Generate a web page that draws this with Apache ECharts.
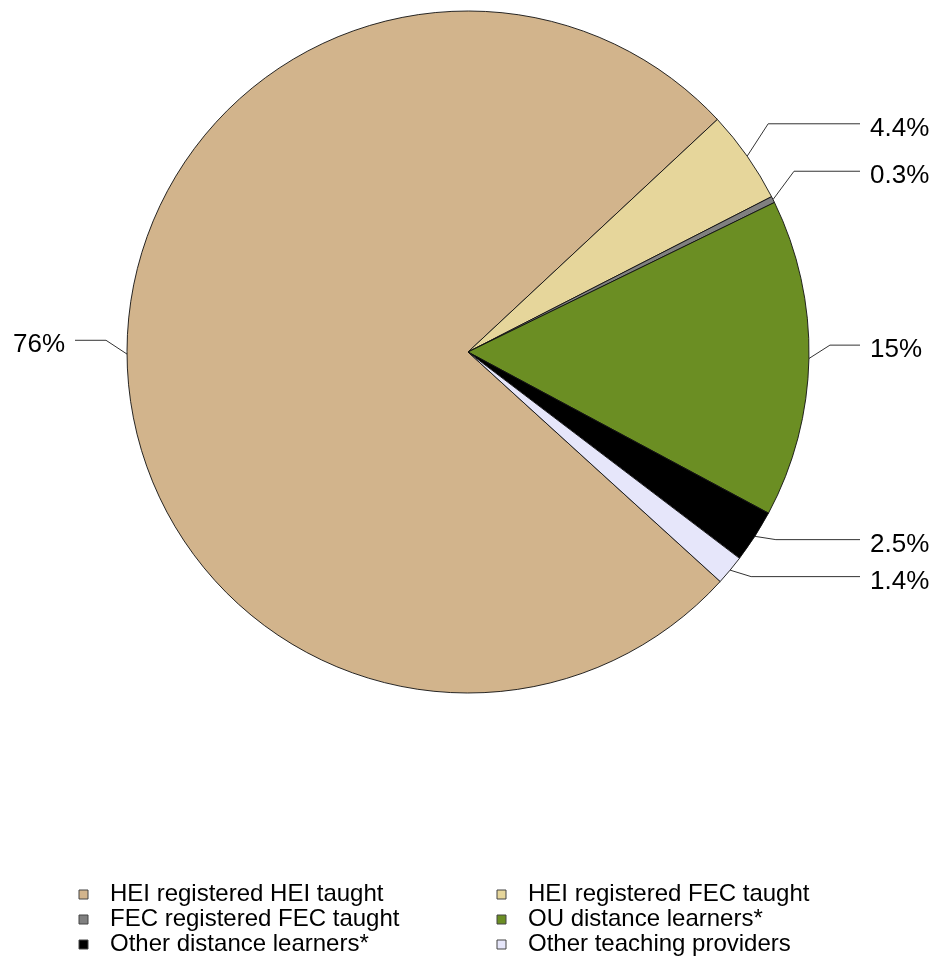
<!DOCTYPE html>
<html>
<head>
<meta charset="utf-8">
<script src="https://cdn.jsdelivr.net/npm/echarts@6/dist/echarts.min.js"></script>
<style>
  html, body { margin: 0; padding: 0; background: #fff; }
  #chart { width: 935px; height: 963px; }
</style>
</head>
<body>
<div id="chart"></div>
<script>
const categories = [
  'HEI registered HEI taught',
  'HEI registered FEC taught',
  'FEC registered FEC taught',
  'OU distance learners*',
  'Other distance learners*',
  'Other teaching providers'
]
const shares = [76, 4.4, 0.3, 15, 2.5, 1.4]
const colors = ['#d2b48c', '#e6d69b', '#808080', '#6b8e23', '#000000', '#e6e6fa']

// legend is split in two columns, like the original
const legendLeft = [categories[0], categories[2], categories[4]]
const legendRight = [categories[1], categories[3], categories[5]]

const font = "'Liberation Sans', Arial, sans-serif"
const labelLift = 14   // leader line sits a bit above the radial point
const textDrop = 5     // text centre is a little under the leader line
const elbowDx = 21     // horizontal run of the diagonal part
const rightTextX = 870
const leftTextX = 65
const lineGap = 10

const myChart = echarts.init(document.getElementById('chart'))

const pieData = categories.map(function (name, i) {
  return { name: name, value: shares[i] }
})

function legendOf(names, left) {
  return {
    orient: 'vertical',
    left: left,
    top: 882,
    padding: 0,
    itemGap: 0,
    itemWidth: 43,
    itemHeight: 9,
    icon: 'path://M0,0L10,0L10,10L0,10Z',
    selectedMode: false,
    itemStyle: { borderColor: '#444', borderWidth: 1 },
    textStyle: {
      fontFamily: font,
      fontSize: 24,
      color: '#000',
      lineHeight: 25
    },
    data: names
  }
}

const option = {
  animation: false,
  color: colors,
  legend: [legendOf(legendLeft, 78.5), legendOf(legendRight, 496.5)],
  series: [
    {
      type: 'pie',
      center: [468, 352],
      radius: 341,
      startAngle: 317.7,
      clockwise: true,
      data: pieData,
      itemStyle: { borderColor: '#111', borderWidth: 0.9 },
      emphasis: { disabled: true },
      label: {
        show: true,
        position: 'outside',
        formatter: '{c}%',
        fontFamily: font,
        fontSize: 26,
        color: '#000',
        bleedMargin: 0,
        distanceToLabelLine: 5
      },
      labelLine: {
        show: true,
        length: 32,
        length2: 10,
        lineStyle: { color: '#333', width: 1 }
      },
      // labels in two columns, leader lines as short diagonal + horizontal
      labelLayout: function (p) {
        const pts = p.labelLinePoints
        if (!pts) return {}
        const right = pts[2][0] > pts[0][0]
        const lineY = pts[2][1] - labelLift
        const textX = right ? rightTextX : leftTextX
        const endX = right ? textX - lineGap : textX + lineGap
        return {
          x: textX,
          y: lineY + textDrop,
          align: right ? 'left' : 'right',
          verticalAlign: 'middle',
          labelLinePoints: [
            [pts[0][0], pts[0][1]],
            [pts[0][0] + (right ? elbowDx : -elbowDx), lineY],
            [endX, lineY]
          ]
        }
      }
    }
  ]
}

myChart.setOption(option)
</script>
</body>
</html>
